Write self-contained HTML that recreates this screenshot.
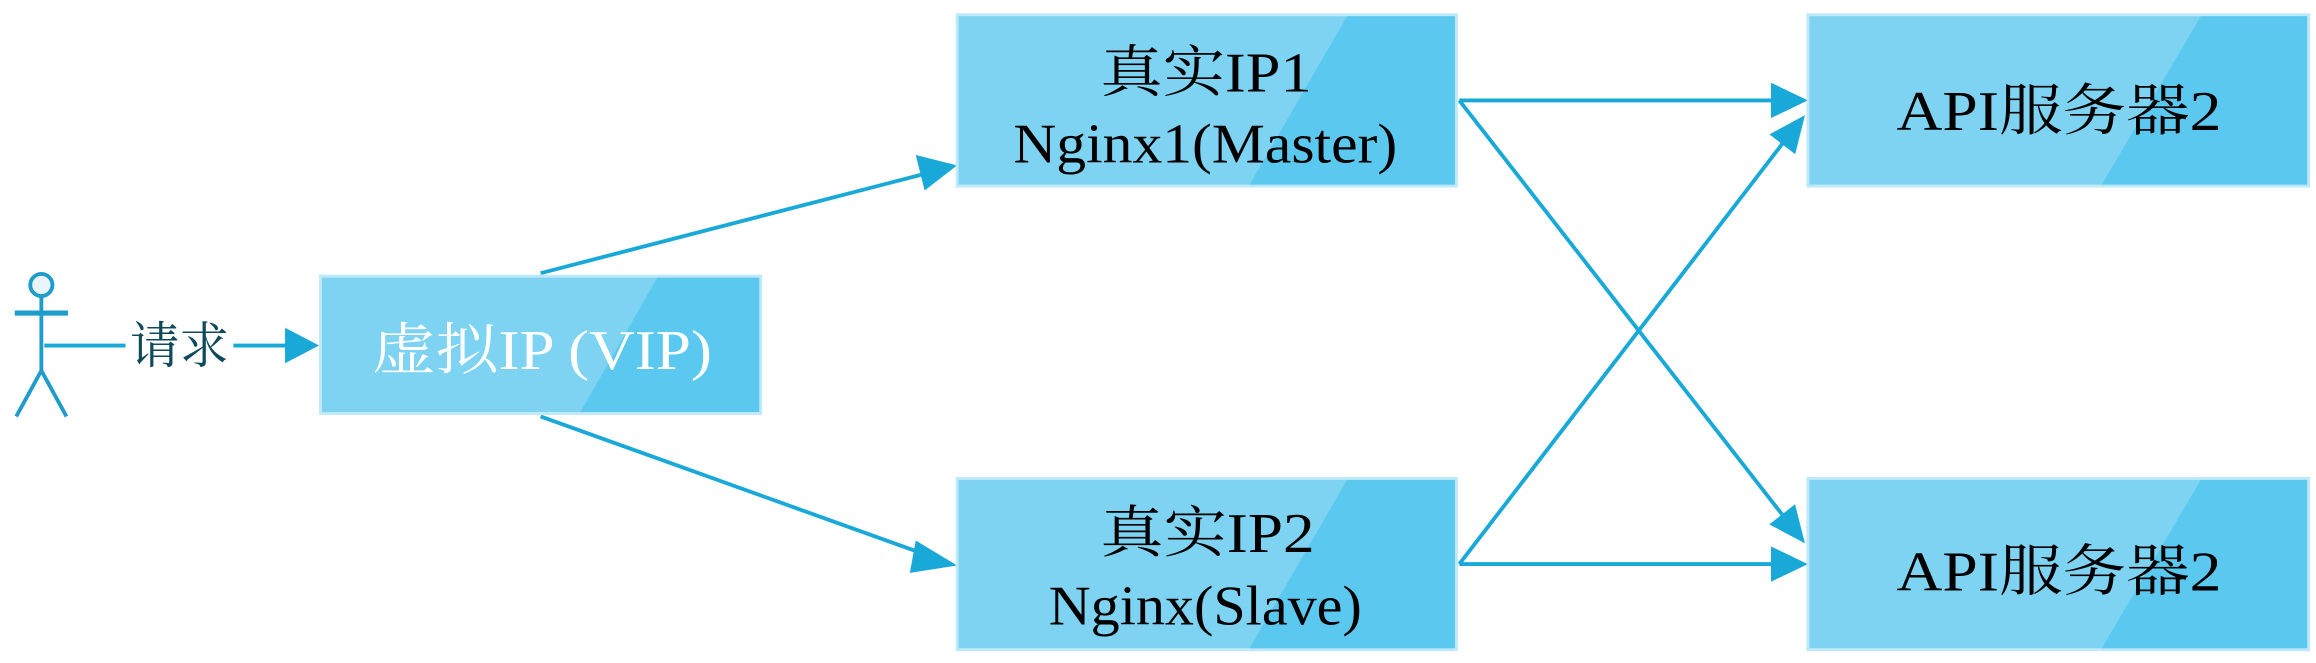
<!DOCTYPE html>
<html><head><meta charset="utf-8"><style>
html,body{margin:0;padding:0;background:#fff;}
svg{display:block;}
text{font-family:"Liberation Serif","Noto Serif CJK SC",serif;}
</style></head><body>
<svg width="2316" height="663" viewBox="0 0 1568 449" preserveAspectRatio="none" xmlns="http://www.w3.org/2000/svg">
<g stroke="#18a9d9" stroke-width="2.6" fill="none">
<line x1="30" y1="234" x2="85" y2="234"/>
<line x1="158" y1="234" x2="195" y2="234"/>
<line x1="366" y1="185" x2="625" y2="118"/>
<line x1="366" y1="282" x2="625" y2="375"/>
<line x1="988" y1="68" x2="1200" y2="68"/>
<line x1="988" y1="68" x2="1207" y2="349"/>
<line x1="988" y1="382" x2="1207" y2="97"/>
<line x1="988" y1="382" x2="1200" y2="382"/>
</g>
<g fill="#18a9d9">
<polygon points="216,234 193,222 193,246"/>
<polygon points="648,112 620,105 626,129"/>
<polygon points="648,383 620,366 616,388"/>
<polygon points="1224,68 1199,56 1199,80"/>
<polygon points="1222,78 1198,91 1215.4,104.5"/>
<polygon points="1224,382 1199,370 1199,394"/>
<polygon points="1222,368 1197.9,355.1 1215.3,341.5"/>
</g>
<g stroke="#1e9ccb" stroke-width="2.6" fill="none">
<circle cx="28" cy="193" r="7.5" fill="#eaf4fb"/>
<line x1="28" y1="201" x2="28" y2="251"/>
<line x1="10" y1="212" x2="46" y2="212" stroke-width="3.5"/>
<line x1="28" y1="251" x2="11" y2="282"/>
<line x1="28" y1="251" x2="45" y2="282"/>
</g>
<text x="88" y="246" font-size="34" fill="#0f4a5c" textLength="67" lengthAdjust="spacingAndGlyphs">请求</text>
<g>
<rect x="217" y="187" width="298" height="93" fill="#7dd3f1" stroke="#bfe9f8" stroke-width="2"/>
<polygon points="445,188 514,188 514,279 393,279" fill="#5bc9ef"/>
<text x="252" y="250" font-size="38" fill="#fff" textLength="230" lengthAdjust="spacingAndGlyphs">虚拟IP (VIP)</text>

<rect x="648" y="10" width="338" height="116" fill="#7dd3f1" stroke="#bfe9f8" stroke-width="2"/>
<polygon points="912,11 985,11 985,125 846,125" fill="#5bc9ef"/>
<text x="745" y="62" font-size="38" fill="#000" textLength="143" lengthAdjust="spacingAndGlyphs">真实IP1</text>
<text x="686" y="110" font-size="38" fill="#000" textLength="260" lengthAdjust="spacingAndGlyphs">Nginx1(Master)</text>

<rect x="648" y="324" width="338" height="116" fill="#7dd3f1" stroke="#bfe9f8" stroke-width="2"/>
<polygon points="912,325 985,325 985,439 846,439" fill="#5bc9ef"/>
<text x="745" y="374" font-size="38" fill="#000" textLength="145" lengthAdjust="spacingAndGlyphs">真实IP2</text>
<text x="710" y="423" font-size="38" fill="#000" textLength="212" lengthAdjust="spacingAndGlyphs">Nginx(Slave)</text>

<rect x="1224" y="10" width="339" height="116" fill="#7dd3f1" stroke="#bfe9f8" stroke-width="2"/>
<polygon points="1490,11 1562,11 1562,125 1423,125" fill="#5bc9ef"/>
<text x="1284" y="88" font-size="38" fill="#000" textLength="220" lengthAdjust="spacingAndGlyphs">API服务器2</text>

<rect x="1224" y="324" width="339" height="116" fill="#7dd3f1" stroke="#bfe9f8" stroke-width="2"/>
<polygon points="1490,325 1562,325 1562,439 1423,439" fill="#5bc9ef"/>
<text x="1284" y="400" font-size="38" fill="#000" textLength="220" lengthAdjust="spacingAndGlyphs">API服务器2</text>
</g>
</svg>
</body></html>
